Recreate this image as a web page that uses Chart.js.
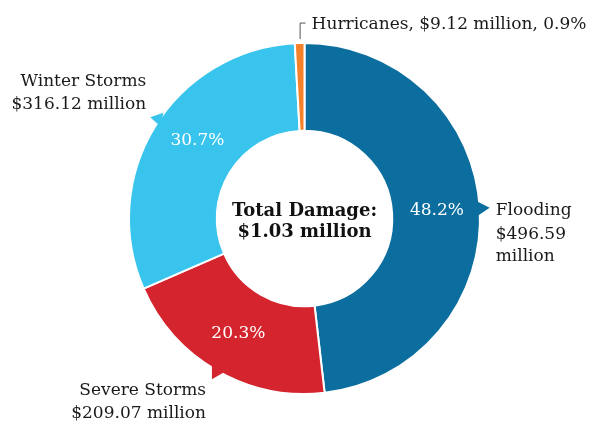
<!DOCTYPE html>
<html>
<head>
<meta charset="utf-8">
<script src="https://cdn.jsdelivr.net/npm/chart.js@4.4.1/dist/chart.umd.min.js"></script>
<style>
  html, body { margin: 0; padding: 0; background: #fff; }
  #wrap { width: 600px; height: 423px; }
</style>
</head>
<body>
<div id="wrap"><canvas id="myChart" width="600" height="423"></canvas></div>
<script>
const categories = ["Flooding", "Severe Storms", "Winter Storms", "Hurricanes"];
const damage = [496.59, 209.07, 316.12, 9.12]; // $ million
const colors = ["#0b6e9e", "#d4252e", "#38c4ed", "#f5822a"];
const totalLabel = ["Total Damage:", "$1.03 million"];

const FONT = "'DejaVu Serif', 'Liberation Serif', serif";
const total = damage.reduce((a, b) => a + b, 0);
const pct = damage.map(v => (v / total * 100).toFixed(1) + "%");
const money = v => "$" + v.toFixed(2);

// labels, arrows and center text drawn on top of the arcs
const calloutPlugin = {
  id: "callouts",
  afterDatasetsDraw(chart) {
    const ctx = chart.ctx;
    const arcs = chart.getDatasetMeta(0).data;
    ctx.save();
    arcs.forEach((arc, i) => {
      const { x, y, startAngle, endAngle, innerRadius, outerRadius } = arc.getProps(
        ["x", "y", "startAngle", "endAngle", "innerRadius", "outerRadius"], true);
      const mid = (startAngle + endAngle) / 2;
      const cos = Math.cos(mid), sin = Math.sin(mid);

      if (i === 3) {
        // small slice: leader bracket and one-line label
        const tx = x + outerRadius * cos, ty = y + outerRadius * sin;
        ctx.strokeStyle = "#555";
        ctx.lineWidth = 1;
        ctx.beginPath();
        ctx.moveTo(tx + 0.5, ty - 4);
        ctx.lineTo(tx + 0.5, ty - 20);
        ctx.lineTo(tx + 6, ty - 20);
        ctx.stroke();
        ctx.fillStyle = "#1a1a1a";
        ctx.font = "17px " + FONT;
        ctx.textAlign = "left";
        ctx.textBaseline = "alphabetic";
        ctx.fillText(categories[i] + ", " + money(damage[i]) + " million, " + pct[i], tx + 12, ty - 14);
        return;
      }

      // pointer triangle on the outer edge; the winter one sits a bit higher and points left
      const ba = i === 2 ? mid + 0.055 : mid;
      let dx = Math.cos(ba), dy = Math.sin(ba);
      if (i === 2) { dx = -0.98; dy = -0.2; }
      const bx = x + (outerRadius - 2) * Math.cos(ba), by = y + (outerRadius - 2) * Math.sin(ba);
      const tipX = bx + 12 * dx, tipY = by + 12 * dy;
      ctx.fillStyle = colors[i];
      ctx.beginPath();
      ctx.moveTo(bx - dy * 7, by + dx * 7);
      ctx.lineTo(tipX, tipY);
      ctx.lineTo(bx + dy * 7, by - dx * 7);
      ctx.closePath();
      ctx.fill();

      // percentage inside the ring (winter label sits a little further round)
      const r = (innerRadius + outerRadius) / 2 + 1;
      const a = i === 2 ? mid + 0.08 : mid;
      ctx.fillStyle = "#fff";
      ctx.font = "17px " + FONT;
      ctx.textAlign = "center";
      ctx.textBaseline = "middle";
      ctx.fillText(pct[i], x + r * Math.cos(a), y + r * Math.sin(a));

      // category name and amount
      ctx.fillStyle = "#1a1a1a";
      ctx.font = "17px " + FONT;
      ctx.textBaseline = "alphabetic";
      if (i === 0) {
        ctx.textAlign = "left";
        const lx = tipX + 6, ly = tipY + 7;
        ctx.fillText(categories[i], lx, ly);
        ctx.fillText(money(damage[i]), lx, ly + 24);
        ctx.fillText("million", lx, ly + 46);
      } else if (i === 1) {
        ctx.textAlign = "right";
        const lx = tipX - 6, ly = tipY + 16;
        ctx.fillText(categories[i], lx, ly);
        ctx.fillText(money(damage[i]) + " million", lx, ly + 23);
      } else {
        ctx.textAlign = "right";
        const lx = tipX - 4, ly = tipY - 31;
        ctx.fillText(categories[i], lx, ly);
        ctx.fillText(money(damage[i]) + " million", lx, ly + 23);
      }
    });

    // total in the hole
    const c = arcs[0];
    ctx.fillStyle = "#111";
    ctx.font = "bold 18px " + FONT;
    ctx.textAlign = "center";
    ctx.textBaseline = "alphabetic";
    ctx.fillText(totalLabel[0], c.x, c.y - 3);
    ctx.fillText(totalLabel[1], c.x, c.y + 18);
    ctx.restore();
  }
};

new Chart(document.getElementById("myChart").getContext("2d"), {
  type: "doughnut",
  data: {
    labels: categories,
    datasets: [{
      data: damage,
      backgroundColor: colors,
      borderColor: "#fff",
      borderWidth: 2
    }]
  },
  options: {
    responsive: false,
    animation: false,
    cutout: "50%",
    layout: { padding: { left: 128, right: 119, top: 42, bottom: 28 } },
    plugins: {
      legend: { display: false },
      tooltip: { enabled: false }
    }
  },
  plugins: [calloutPlugin]
});
</script>
</body>
</html>
